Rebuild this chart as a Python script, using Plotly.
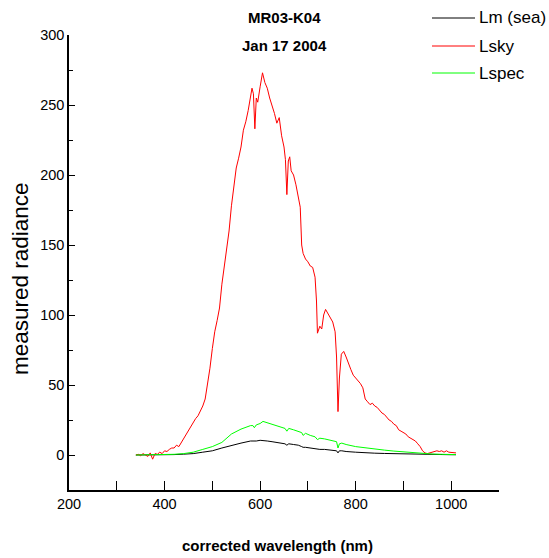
import plotly.graph_objects as go

# ---------------- data ----------------
wl_sky = [340, 345, 350, 355, 360, 365, 370, 375, 380, 385, 390, 395, 400, 405, 410,
          415, 420, 425, 430, 435, 440, 445, 450, 455, 460, 465, 470, 475, 480, 485,
          490, 495, 500, 505, 510, 515, 520, 525, 530, 535, 540, 545, 550, 555, 560,
          565, 570, 575, 580, 583, 586, 589, 592, 595, 600, 605, 610, 615, 620, 625,
          630, 635, 640, 645, 650, 653, 656, 659, 662, 665, 670, 675, 680, 684, 687,
          690, 695, 700, 705, 710, 715, 718, 720, 725, 729, 733, 737, 742, 747, 752,
          757, 760, 763, 766, 770, 775, 780, 785, 790, 795, 800, 805, 810, 815, 820,
          825, 830, 835, 840, 845, 850, 855, 860, 865, 870, 875, 880, 885, 890, 895,
          900, 905, 910, 915, 920, 925, 930, 935, 940, 945, 950, 955, 960, 965, 970,
          975, 980, 985, 990, 995, 1000, 1005, 1010]
lsky = [0, 0.5, -0.5, 1, 0, -1, 1.5, -3, 1, 0.5, 2, 1, 3, 2.5, 4,
        5, 5, 7, 6, 9, 11, 14, 17, 20, 23, 26, 28, 31, 35, 40,
        50, 62, 76, 88, 96, 105, 122, 135, 145, 160, 178, 192, 205, 212, 220,
        232, 238, 246, 255, 262, 258, 233, 255, 252, 263, 273, 266, 262, 255, 250,
        244, 237, 241, 228, 220, 211, 186, 210, 213, 203, 200, 193, 184, 177, 150,
        144, 140, 138, 135, 134, 127, 110, 87, 92, 90, 100, 104, 101, 98, 95,
        88, 70, 31, 55, 72, 74, 70, 65, 61, 57, 55, 53, 51, 48, 40,
        38, 36, 37, 35, 34, 32, 30, 29, 27, 25, 24, 22, 21, 18, 17,
        16, 15, 13, 12, 11, 10, 8, 6, 3, 1.5, 1, 1.5, 2, 2, 3,
        2.5, 3, 2, 3, 2, 2, 1.5, 1.5]

wl_model = [340, 360, 380, 400, 420, 440, 460, 480, 500, 520,
            540, 560, 580, 585, 588, 592, 600, 606, 615, 625,
            635, 645, 652, 656, 660, 670, 680, 687, 690, 695,
            705, 715, 720, 725, 735, 745, 755, 760, 763, 766,
            771, 780, 800, 820, 840, 860, 880, 900, 920, 940,
            960, 980, 1000, 1010]
lspec = [0, 0, 0, 0.2, 0.5, 1, 2, 4, 6, 9,
         15, 18.5, 21, 21, 19.5, 21.5, 22.5, 24, 23, 22,
         21, 20, 19, 17, 19, 18, 17, 16, 14, 15.5,
         14, 13, 11, 12, 11.5, 10.5, 10, 9.5, 5, 8,
         8.5, 7.5, 6, 5, 4, 3.5, 2.8, 2.2, 1.6, 1.0,
         0.7, 0.5, 0.4, 0.3]
lm_sea = [0, 0, 0, 0.1, 0.3, 0.6, 1, 2, 3, 5,
          7, 8.5, 10, 10, 9.5, 10, 10.5, 10.5, 10, 9.5,
          9, 8.5, 8, 7, 8, 7.5, 7, 6, 5.5, 5.5,
          5, 4.5, 4, 4, 4, 3.5, 3.5, 3, 1.5, 3,
          3, 2.5, 2, 1.5, 1.3, 1.1, 0.9, 0.7, 0.5, 0.4,
          0.3, 0.3, 0.2, 0.2]

series_names = ["Lm (sea)", "Lsky", "Lspec"]
series_colors = ["black", "#ff0000", "#00ff00"]
title_lines = ["MR03-K04", "Jan 17 2004"]
x_label = "corrected wavelength (nm)"
y_label = "measured radiance"

FONT = "Liberation Sans, Arial, sans-serif"

fig = go.Figure()
fig.add_trace(go.Scatter(x=wl_model, y=lm_sea, mode="lines", name=series_names[0],
                         line=dict(color=series_colors[0], width=1)))
fig.add_trace(go.Scatter(x=wl_sky, y=lsky, mode="lines", name=series_names[1],
                         line=dict(color=series_colors[1], width=1)))
fig.add_trace(go.Scatter(x=wl_model, y=lspec, mode="lines", name=series_names[2],
                         line=dict(color=series_colors[2], width=1)))

fig.update_layout(
    width=549, height=558,
    margin=dict(l=69, r=50, t=35, b=68, pad=0),
    paper_bgcolor="white", plot_bgcolor="white",
    showlegend=False,
    xaxis=dict(range=[200, 1100], tick0=200, dtick=200,
               showline=True, linecolor="black", linewidth=1.5,
               ticks="inside", ticklen=9, tickwidth=1.2, tickcolor="black",
               minor=dict(dtick=100, tick0=200, ticks="inside", ticklen=9, tickcolor="black", tickwidth=1.2),
               showgrid=False, zeroline=False,
               tickfont=dict(family=FONT, size=14.5, color="black")),
    yaxis=dict(range=[-25, 300], tick0=0, dtick=50,
               showline=True, linecolor="black", linewidth=1.5,
               ticks="inside", ticklen=6, tickwidth=1.2, tickcolor="black",
               minor=dict(dtick=25, tick0=0, ticks="inside", ticklen=4, tickcolor="black", tickwidth=1.2),
               showgrid=False, zeroline=False,
               tickfont=dict(family=FONT, size=14.5, color="black")),
)

# axis titles placed as in the reference
fig.add_annotation(text=x_label, xref="paper", yref="paper", x=(277 - 69) / 430, y=(490 - 545) / 455,
                   xanchor="center", yanchor="middle", showarrow=False,
                   font=dict(family=FONT, size=15, color="black", weight="bold"))
fig.add_annotation(text=y_label, xref="paper", yref="paper", x=(20 - 69) / 430, y=(490 - 279) / 455,
                   xanchor="center", yanchor="middle", showarrow=False, textangle=-90,
                   font=dict(family=FONT, size=22.5, color="black"))

# title (two bold lines)
for line_text, py in zip(title_lines, [18, 45]):
    fig.add_annotation(text=line_text, xref="paper", yref="paper", x=0.5, y=(490 - py) / 455,
                       xanchor="center", yanchor="middle", showarrow=False,
                       font=dict(family=FONT, size=15, color="black", weight="bold"))

# legend drawn at the top right, as in the reference
for name, color, py in zip(series_names, series_colors, [18, 46, 73]):
    yp = (490 - py) / 455
    fig.add_shape(type="line", xref="paper", yref="paper",
                  x0=(432 - 69) / 430, x1=(475 - 69) / 430, y0=yp, y1=yp,
                  line=dict(color=color, width=1))
    fig.add_annotation(text=name, xref="paper", yref="paper", x=(477 - 69) / 430, y=yp,
                       xanchor="left", yanchor="middle", showarrow=False,
                       font=dict(family=FONT, size=17, color="black"))

fig.write_html("out.html")
